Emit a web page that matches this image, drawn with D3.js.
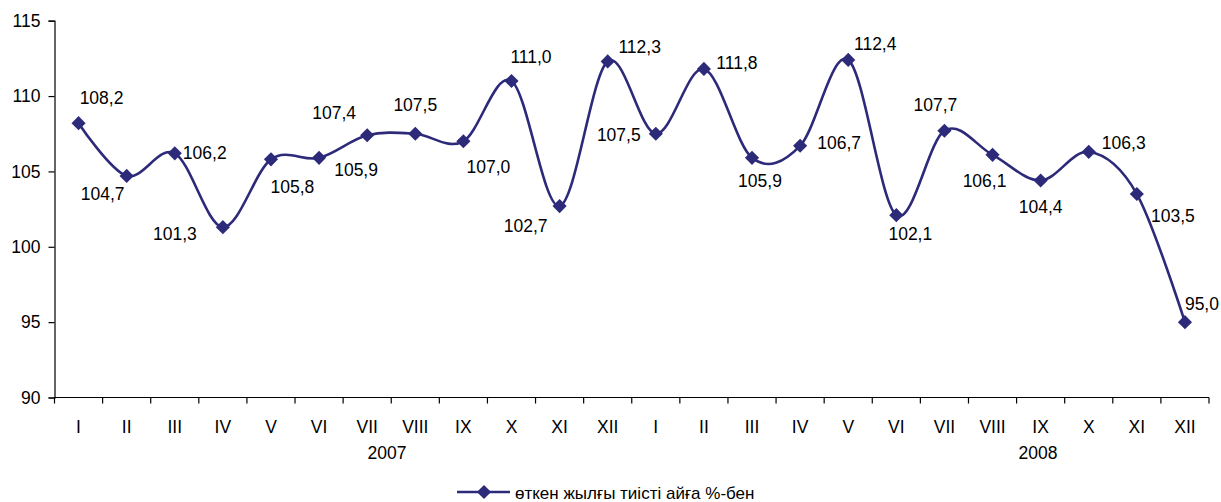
<!DOCTYPE html>
<html>
<head>
<meta charset="utf-8">
<script src="https://cdn.jsdelivr.net/npm/d3@7"></script>
<style>
  html, body { margin: 0; padding: 0; background: #fff; }
  svg { display: block; font-family: "Liberation Sans", Arial, sans-serif; }
</style>
</head>
<body>
<svg id="chart" width="1221" height="502"></svg>
<script>
// ---- data ----
const months = ["I","II","III","IV","V","VI","VII","VIII","IX","X","XI","XII",
                "I","II","III","IV","V","VI","VII","VIII","IX","X","XI","XII"];
const years = ["2007", "2008"];
const values = [108.2, 104.7, 106.2, 101.3, 105.8, 105.9, 107.4, 107.5, 107.0, 111.0, 102.7, 112.3,
                107.5, 111.8, 105.9, 106.7, 112.4, 102.1, 107.7, 106.1, 104.4, 106.3, 103.5, 95.0];
const yTicks = [90, 95, 100, 105, 110, 115];
const seriesName = "өткен жылғы тиісті айға %-бен";

// ---- layout (label offsets in px, relative to the point) ----
const labelOffsets = [
  [23,-25.5],[-24,17.5],[30,0],[-48,7],[21.5,28],[37,12.5],[-33,-22],[0,-29],[25,25.5],[19.5,-24],[-34,20],[32,-15],
  [-37,1],[33,-6],[8,23],[39,-3],[27,-16],[14,19],[-9,-26],[-8,26],[0,26.5],[35,-9],[36,22],[17,-18]
];
const yearX = [387, 1038];

const color = "#2d2a7a";
const fontSize = 17.5;
const svg = d3.select("#chart");

const x0 = 54.5, x1 = 1209, yTop = 20.7, yBot = 397.5;
const idx = d3.range(months.length);
const x = d3.scaleBand().domain(idx).range([x0, x1]);
const y = d3.scaleLinear().domain([90, 115]).range([yBot, yTop]);
const cx = i => x(i) + x.bandwidth() / 2;

// y axis
const yAxis = svg.append("g")
  .attr("transform", `translate(${x0},0)`)
  .call(d3.axisLeft(y).tickValues(yTicks).tickSize(6).tickPadding(8).tickFormat(d3.format("d")));
yAxis.select(".domain").attr("stroke", "#000").attr("stroke-width", 1.2);
yAxis.selectAll(".tick line").attr("stroke", "#000").attr("stroke-width", 1.2);
yAxis.selectAll("text").attr("font-size", fontSize).attr("fill", "#000")
  .attr("font-family", "Liberation Sans, Arial, sans-serif");

// x axis: boundary ticks
const xAxisG = svg.append("g").attr("transform", `translate(0,${yBot})`);
xAxisG.append("line").attr("x1", x0).attr("x2", x1).attr("y1", 0).attr("y2", 0)
  .attr("stroke", "#000").attr("stroke-width", 1.2);
const boundaries = d3.range(months.length + 1);
xAxisG.selectAll("line.tk").data(boundaries).join("line").attr("class", "tk")
  .attr("x1", b => b < months.length ? x(b) : x1)
  .attr("x2", b => b < months.length ? x(b) : x1)
  .attr("y1", 0).attr("y2", 6).attr("stroke", "#000").attr("stroke-width", 1.2);
xAxisG.selectAll("text.m").data(idx).join("text").attr("class", "m")
  .attr("x", i => cx(i)).attr("y", 29)
  .attr("dy", "0.35em").attr("text-anchor", "middle")
  .attr("font-size", fontSize).text(i => months[i]);
xAxisG.selectAll("text.yr").data(years).join("text").attr("class", "yr")
  .attr("x", (d, i) => yearX[i]).attr("y", 55)
  .attr("dy", "0.35em").attr("text-anchor", "middle")
  .attr("font-size", fontSize).text(d => d);

// line
const line = d3.line().x((d, i) => cx(i)).y(d => y(d)).curve(d3.curveCatmullRom.alpha(0));
svg.append("path").datum(values).attr("d", line)
  .attr("fill", "none").attr("stroke", color).attr("stroke-width", 2.6);

// markers
const diamond = d3.symbol().type(d3.symbolSquare).size(100);
svg.selectAll("path.mk").data(values).join("path").attr("class", "mk")
  .attr("d", diamond())
  .attr("transform", (d, i) => `translate(${cx(i)},${y(d)}) rotate(45)`)
  .attr("fill", color);

// labels
const fmt = v => d3.format(".1f")(v).replace(".", ",");
svg.selectAll("text.lb").data(values).join("text").attr("class", "lb")
  .attr("x", (d, i) => cx(i) + labelOffsets[i][0])
  .attr("y", (d, i) => y(d) + labelOffsets[i][1])
  .attr("dy", "0.35em").attr("text-anchor", "middle")
  .attr("font-size", fontSize).attr("fill", "#000").text(fmt);

// legend
const lg = svg.append("g").attr("transform", "translate(457,492)");
lg.append("line").attr("x1", 0).attr("x2", 53).attr("y1", 0).attr("y2", 0)
  .attr("stroke", color).attr("stroke-width", 2.6);
lg.append("path").attr("d", diamond()).attr("transform", "translate(27,0) rotate(45)").attr("fill", color);
lg.append("text").attr("x", 58).attr("y", 1).attr("dy", "0.35em")
  .attr("font-size", 17).text(seriesName);
</script>
</body>
</html>
